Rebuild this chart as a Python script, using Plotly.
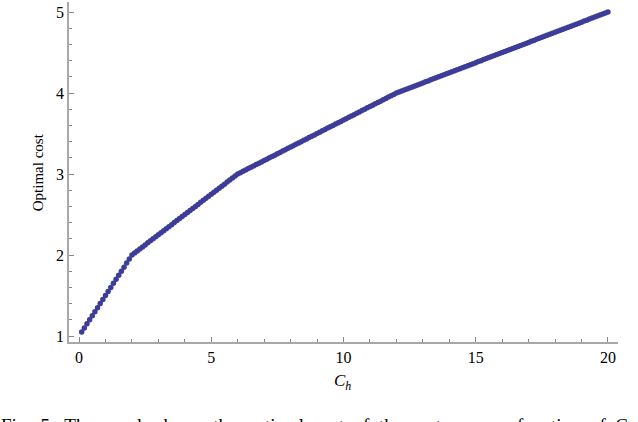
import plotly.graph_objects as go

# C_h values (horizontal axis)
ch = [0.1, 0.2, 0.3, 0.4, 0.5, 0.6, 0.7, 0.8, 0.9, 1.0,
      1.1, 1.2, 1.3, 1.4, 1.5, 1.6, 1.7, 1.8, 1.9, 2.0,
      2.1, 2.2, 2.3, 2.4, 2.5, 2.6, 2.7, 2.8, 2.9, 3.0,
      3.1, 3.2, 3.3, 3.4, 3.5, 3.6, 3.7, 3.8, 3.9, 4.0,
      4.1, 4.2, 4.3, 4.4, 4.5, 4.6, 4.7, 4.8, 4.9, 5.0,
      5.1, 5.2, 5.3, 5.4, 5.5, 5.6, 5.7, 5.8, 5.9, 6.0,
      6.1, 6.2, 6.3, 6.4, 6.5, 6.6, 6.7, 6.8, 6.9, 7.0,
      7.1, 7.2, 7.3, 7.4, 7.5, 7.6, 7.7, 7.8, 7.9, 8.0,
      8.1, 8.2, 8.3, 8.4, 8.5, 8.6, 8.7, 8.8, 8.9, 9.0,
      9.1, 9.2, 9.3, 9.4, 9.5, 9.6, 9.7, 9.8, 9.9, 10.0,
      10.1, 10.2, 10.3, 10.4, 10.5, 10.6, 10.7, 10.8, 10.9, 11.0,
      11.1, 11.2, 11.3, 11.4, 11.5, 11.6, 11.7, 11.8, 11.9, 12.0,
      12.1, 12.2, 12.3, 12.4, 12.5, 12.6, 12.7, 12.8, 12.9, 13.0,
      13.1, 13.2, 13.3, 13.4, 13.5, 13.6, 13.7, 13.8, 13.9, 14.0,
      14.1, 14.2, 14.3, 14.4, 14.5, 14.6, 14.7, 14.8, 14.9, 15.0,
      15.1, 15.2, 15.3, 15.4, 15.5, 15.6, 15.7, 15.8, 15.9, 16.0,
      16.1, 16.2, 16.3, 16.4, 16.5, 16.6, 16.7, 16.8, 16.9, 17.0,
      17.1, 17.2, 17.3, 17.4, 17.5, 17.6, 17.7, 17.8, 17.9, 18.0,
      18.1, 18.2, 18.3, 18.4, 18.5, 18.6, 18.7, 18.8, 18.9, 19.0,
      19.1, 19.2, 19.3, 19.4, 19.5, 19.6, 19.7, 19.8, 19.9, 20.0]

# optimal cost
cost = [1.05, 1.1, 1.15, 1.2, 1.25, 1.3, 1.35, 1.4, 1.45, 1.5,
        1.55, 1.6, 1.65, 1.7, 1.75, 1.8, 1.85, 1.9, 1.95, 2.0,
        2.025, 2.05, 2.075, 2.1, 2.125, 2.15, 2.175, 2.2, 2.225, 2.25,
        2.275, 2.3, 2.325, 2.35, 2.375, 2.4, 2.425, 2.45, 2.475, 2.5,
        2.525, 2.55, 2.575, 2.6, 2.625, 2.65, 2.675, 2.7, 2.725, 2.75,
        2.775, 2.8, 2.825, 2.85, 2.875, 2.9, 2.925, 2.95, 2.975, 3.0,
        3.017, 3.033, 3.05, 3.067, 3.083, 3.1, 3.117, 3.133, 3.15, 3.167,
        3.183, 3.2, 3.217, 3.233, 3.25, 3.267, 3.283, 3.3, 3.317, 3.333,
        3.35, 3.367, 3.383, 3.4, 3.417, 3.433, 3.45, 3.467, 3.483, 3.5,
        3.517, 3.533, 3.55, 3.567, 3.583, 3.6, 3.617, 3.633, 3.65, 3.667,
        3.683, 3.7, 3.717, 3.733, 3.75, 3.767, 3.783, 3.8, 3.817, 3.833,
        3.85, 3.867, 3.883, 3.9, 3.917, 3.933, 3.95, 3.967, 3.983, 4.0,
        4.013, 4.025, 4.038, 4.05, 4.063, 4.075, 4.088, 4.1, 4.113, 4.125,
        4.138, 4.15, 4.163, 4.175, 4.188, 4.2, 4.213, 4.225, 4.238, 4.25,
        4.263, 4.275, 4.288, 4.3, 4.313, 4.325, 4.338, 4.35, 4.363, 4.375,
        4.388, 4.4, 4.413, 4.425, 4.438, 4.45, 4.463, 4.475, 4.488, 4.5,
        4.513, 4.525, 4.538, 4.55, 4.563, 4.575, 4.588, 4.6, 4.613, 4.625,
        4.638, 4.65, 4.663, 4.675, 4.688, 4.7, 4.713, 4.725, 4.738, 4.75,
        4.763, 4.775, 4.788, 4.8, 4.813, 4.825, 4.838, 4.85, 4.863, 4.875,
        4.888, 4.9, 4.913, 4.925, 4.938, 4.95, 4.963, 4.975, 4.988, 5.0]

x_ticks = [0, 5, 10, 15, 20]
y_ticks = [1, 2, 3, 4, 5]
caption_words = ["Fig.", "5.", "The", "graph", "shows", "the", "optimal", "cost",
                 "of", "the", "system", "as", "a", "function", "of", "C"]

serif = "Liberation Serif, Times New Roman, serif"
axis_gray = "#a8a8a8"

fig = go.Figure()
fig.add_trace(go.Scatter(x=ch, y=cost, mode="markers", cliponaxis=False,
                         marker=dict(color="#3d3d99", size=5.5, line=dict(width=0)),
                         showlegend=False))

fig.update_xaxes(range=[-0.38, 20.38], tickvals=x_ticks, showgrid=False, zeroline=False,
                 showline=True, linecolor=axis_gray, linewidth=1.5,
                 ticks="inside", ticklen=5, tickcolor="#888888", tickwidth=1,
                 minor=dict(dtick=1, ticks="inside", ticklen=3, tickcolor="#888888"),
                 tickfont=dict(family=serif, size=16, color="black"))
fig.update_yaxes(range=[0.926, 5.124], tickvals=y_ticks, showgrid=False, zeroline=False,
                 showline=True, linecolor=axis_gray, linewidth=1.5,
                 ticks="inside", ticklen=5, tickcolor="#888888", tickwidth=1,
                 minor=dict(dtick=0.2, ticks="inside", ticklen=3, tickcolor="#888888"),
                 tickfont=dict(family=serif, size=16, color="black"))

# axis titles
fig.add_annotation(text="Optimal cost", xref="paper", yref="paper", x=-0.056, y=0.5,
                   textangle=-90, showarrow=False, xanchor="center", yanchor="middle",
                   font=dict(family=serif, size=15, color="black"))
fig.add_annotation(text="<i>C</i><sub><i>h</i></sub>", xref="paper", yref="paper",
                   x=0.498, y=-0.118, showarrow=False, xanchor="center", yanchor="middle",
                   font=dict(family=serif, size=17, color="black"))

# caption, cut off at the bottom of the picture
fig.add_annotation(text="\u2002".join(caption_words), xref="paper", yref="paper",
                   x=-0.128, y=-0.209, showarrow=False, xanchor="left", yanchor="top",
                   font=dict(family=serif, size=19, color="black"))

fig.update_layout(width=638, height=422, margin=dict(l=69, r=20, t=2, b=80),
                  plot_bgcolor="white", paper_bgcolor="white")

# drop the page margin so the figure sits at the top-left corner
fig.write_html("out.html", config={"displayModeBar": False},
               post_script="document.body.style.margin='0';")
